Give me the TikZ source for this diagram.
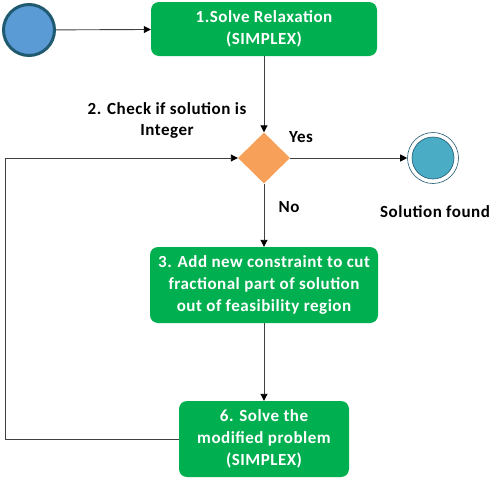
\documentclass[tikz,border=0pt]{standalone}
\usepackage{fontspec}
\setmainfont{Carlito}
\newfontfamily\dfont{Carlito}[LetterSpace=3]
\usetikzlibrary{shapes.geometric,arrows.meta}
\definecolor{boxgreen}{HTML}{00B050}
\definecolor{startfill}{HTML}{5B9BD5}
\definecolor{startline}{HTML}{1F5A70}
\definecolor{endfill}{HTML}{4BACC6}
\definecolor{diafill}{HTML}{F6A05A}
\definecolor{linegray}{HTML}{404040}
\tikzset{
  stepbox/.style={draw=none,fill=boxgreen,rounded corners=8pt,text=white,font=\dfont\bfseries\fontsize{17}{22}\selectfont,align=center,inner sep=0pt},
  conn/.style={draw=linegray,line width=0.9pt,-{Triangle[length=7pt,width=7pt,color=black]}},
  plain/.style={draw=linegray,line width=0.9pt},
  lbl/.style={font=\dfont\bfseries\fontsize{17}{21}\selectfont,text=black,align=center}
}
\begin{document}
\begin{tikzpicture}[x=1pt,y=-1pt]
\useasboundingbox (0,0) rectangle (501,482);
\node[circle,fill=startfill,draw=startline,line width=3pt,minimum size=51pt,inner sep=0pt] (start) at (29,30) {};
\node[stepbox,minimum width=226pt,minimum height=54pt] (b1) at (264,29) {1.Solve Relaxation\\(SIMPLEX)};
\node[diamond,fill=diafill,draw=none,minimum width=52pt,minimum height=51pt,inner sep=0pt] (dia) at (264,158) {};
\node[circle,draw=startline,line width=0.6pt,fill=white,minimum size=51pt,inner sep=0pt] (endo) at (433,158) {};
\node[circle,draw=startline,line width=0.6pt,fill=endfill,minimum size=42pt,inner sep=0pt] (endi) at (433,158) {};
\node[stepbox,minimum width=228pt,minimum height=76pt] (b3) at (264,285) {3. Add new constraint to cut\\fractional part of solution\\out of feasibility region};
\node[stepbox,minimum width=170pt,minimum height=76pt] (b4) at (264,439) {6. Solve the\\modified problem\\(SIMPLEX)};
\coordinate (c1) at (5,439);
\coordinate (c2) at (5,158);
\draw[conn] (start) -- (b1);
\draw[conn] (b1) -- (dia);
\draw[conn] (dia) -- (endo);
\draw[conn] (dia) -- (b3);
\draw[conn] (b3) -- (b4);
\draw[conn] (b4.west) -- (c1) -- (c2) -- (dia.west);
\node[lbl] (q) at (167,120) {2. Check if solution is\\Integer};
\node[lbl] (yes) at (301,137) {Yes};
\node[lbl] (no) at (289,207) {No};
\node[lbl] (sf) at (435,212) {Solution found};
\end{tikzpicture}
\end{document}
